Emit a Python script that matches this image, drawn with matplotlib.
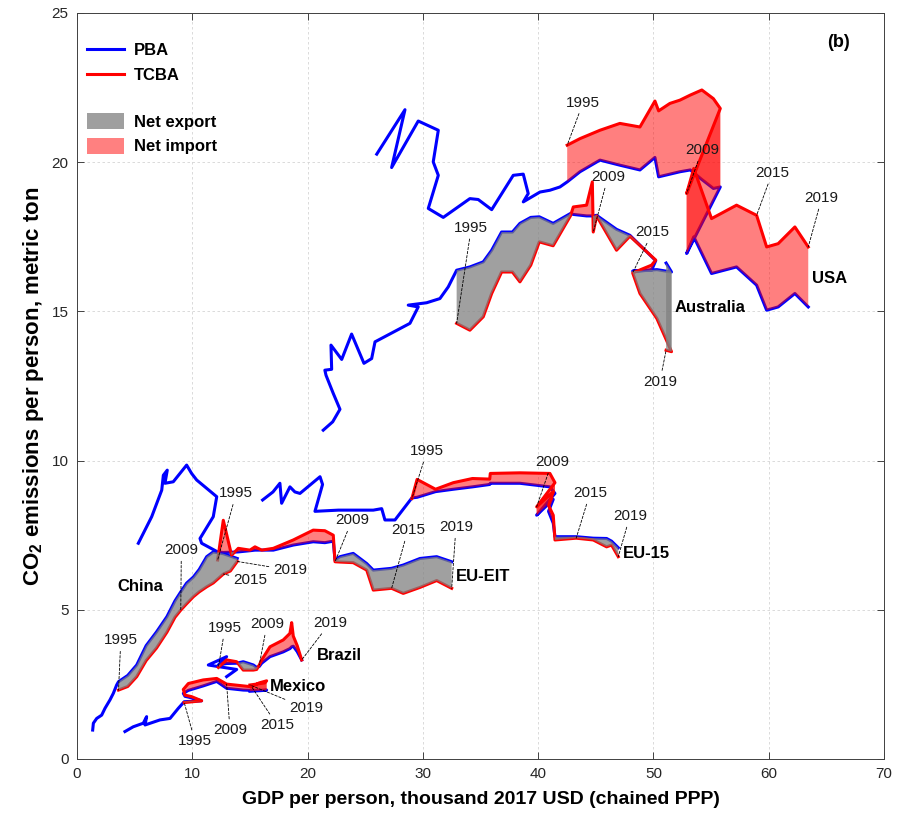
import numpy as np
import matplotlib.pyplot as plt
from matplotlib.lines import Line2D
from matplotlib.patches import Patch

plt.rcParams['font.family'] = ['Liberation Sans', 'DejaVu Sans']
plt.rcParams['mathtext.fontset'] = 'custom'
plt.rcParams['mathtext.rm'] = 'Liberation Sans'
plt.rcParams['mathtext.bf'] = 'Liberation Sans:bold'

# USA: PBA history before 1995, then PBA/TCBA 1995-2019
usa_pre_gdp = [26.0, 28.45, 27.29, 29.6, 31.34, 30.9, 31.34, 30.47, 31.77, 34.08, 34.8,
               35.97, 37.84, 38.71, 39.14, 38.71, 40.16, 41.02, 41.89]
usa_pre_pba = [20.27, 21.76, 19.82, 21.38, 21.07, 20.01, 19.56, 18.45, 18.15, 18.78, 18.75,
               18.41, 19.56, 19.6, 18.95, 18.67, 19.0, 19.06, 19.17]
usa_year = [1995, 1996, 1997, 1998, 1999, 2000, 2001, 2002, 2003, 2004, 2005, 2006, 2007,
            2009, 2010, 2011, 2012, 2015, 2016, 2017, 2018, 2019]
usa_gdp = [42.52, 43.63, 45.36, 47.09, 48.83, 50.13, 50.45, 51.43, 52.3, 53.2, 54.2, 55.2, 55.8,
           52.88, 53.5, 55.04, 57.21, 58.95, 59.82, 60.82, 62.27, 63.43]
usa_pba = [19.34, 19.68, 20.07, 19.9, 19.74, 20.16, 19.51, 19.6, 19.68, 19.74, 19.42, 19.12, 19.17,
           16.94, 17.5, 16.27, 16.49, 15.88, 15.04, 15.15, 15.6, 15.15]
usa_tcba = [20.57, 20.79, 21.07, 21.3, 21.18, 22.05, 21.72, 21.97, 22.08, 22.25, 22.42, 22.13, 21.8,
            18.95, 19.79, 18.11, 18.56, 18.22, 17.16, 17.27, 17.83, 17.16]

# Australia
aus_pre_gdp = [21.36, 22.18, 22.81, 22.23, 21.6, 21.5, 22.09, 22.03, 22.96, 23.82, 24.89, 25.56,
               25.85, 28.88, 29.6, 28.73, 30.33, 31.48, 32.2]
aus_pre_pba = [11.02, 11.3, 11.72, 12.25, 12.86, 13.03, 13.06, 13.87, 13.39, 14.24, 13.26, 13.42,
               13.98, 14.6, 15.15, 15.21, 15.29, 15.43, 15.82]
aus_year = list(range(1995, 2020))
aus_gdp = [32.93, 34.08, 35.24, 35.97, 36.83, 37.77, 38.42, 39.36, 40.1, 41.3, 42.8, 43.05, 44.2,
           44.7, 44.78, 45.07, 46.8, 47.96, 50.2, 49.84, 48.2, 48.83, 50.3, 51.57, 51.1]
aus_pba = [16.38, 16.49, 16.66, 17.05, 17.66, 17.66, 17.95, 18.15, 18.17, 17.95, 18.28, 18.25, 18.2,
           18.2, 18.2, 18.22, 17.75, 17.55, 16.7, 16.38, 16.35, 16.36, 16.4, 16.32, 16.62]
aus_tcba = [14.6, 14.37, 14.82, 15.6, 16.32, 16.32, 15.99, 16.55, 17.33, 17.2, 18.2, 18.5, 18.56,
            19.34, 17.66, 18.2, 17.05, 17.52, 16.72, 16.55, 16.29, 15.6, 14.76, 13.65, 13.7]

# EU-15
eu15_pre_gdp = [16.1, 17.0, 17.6, 17.75, 18.47, 18.9, 19.34, 21.08, 21.3, 20.64, 22.67, 25.7,
                26.43, 26.71, 27.58]
eu15_pre_pba = [8.68, 8.95, 9.24, 8.57, 9.12, 8.95, 8.9, 9.46, 9.2, 8.3, 8.34, 8.34, 8.39, 8.01, 8.01]
eu15_year = [1995, 1996, 1997, 1998, 1999, 2000, 2001, 2003, 2006, 2007, 2009, 2010, 2011, 2012,
             2013, 2015, 2016, 2017, 2018, 2019]
eu15_gdp = [29.05, 29.5, 31.1, 32.64, 34.3, 35.8, 35.85, 38.42, 41.02, 41.46, 39.87, 41.31, 40.9,
            41.31, 41.46, 43.3, 44.78, 45.94, 46.37, 46.95]
eu15_pba = [8.75, 8.77, 8.96, 9.04, 9.12, 9.2, 9.24, 9.24, 9.12, 8.9, 8.17, 8.7, 8.3, 7.9, 7.45,
            7.45, 7.4, 7.39, 7.3, 7.08]
eu15_tcba = [8.73, 9.37, 9.04, 9.26, 9.4, 9.38, 9.57, 9.59, 9.57, 9.26, 8.45, 8.96, 8.5, 8.17, 7.34,
             7.4, 7.34, 7.11, 7.17, 6.78]

# EU-EIT
eit_pre_gdp = [5.32, 6.48, 7.35, 7.49, 7.83, 7.63, 8.35, 9.51, 9.94, 10.38, 12.12, 11.82, 10.67, 10.81]
eit_pre_pba = [7.23, 8.12, 9.01, 9.51, 9.68, 9.24, 9.29, 9.85, 9.57, 9.35, 8.79, 8.12, 7.39, 7.23]
eit_year = [1995, 1996, 1997, 1998, 1999, 2000, 2001, 2002, 2004, 2006, 2007, 2008, 2009, 2010,
            2011, 2012, 2013, 2015, 2016, 2017, 2018, 2019]
eit_gdp = [12.2, 12.69, 13.41, 13.99, 15.0, 15.44, 16.02, 17.03, 18.76, 20.49, 21.5, 22.23, 22.38,
           22.81, 23.96, 25.13, 25.7, 27.29, 28.3, 29.75, 31.2, 32.5]
eit_pba = [6.94, 6.92, 6.93, 6.94, 6.98, 7.0, 7.0, 7.0, 7.17, 7.28, 7.25, 7.3, 6.67, 6.78, 6.89,
           6.55, 6.33, 6.39, 6.5, 6.72, 6.78, 6.61]
eit_tcba = [6.67, 8.0, 6.83, 7.06, 7.0, 7.11, 7.0, 7.06, 7.34, 7.67, 7.65, 7.5, 6.61, 6.6, 6.58,
            6.33, 5.66, 5.72, 5.55, 5.75, 5.98, 5.72]

# China
chn_pre_gdp = [1.36, 1.42, 1.71, 2.14, 2.43, 2.86, 3.15, 3.44]
chn_pre_pba = [0.97, 1.2, 1.36, 1.47, 1.7, 1.98, 2.2, 2.48]
chn_year = [1995, 1997, 1999, 2001, 2003, 2005, 2007, 2009, 2010, 2011, 2012, 2013, 2014, 2015,
            2017, 2019]
chn_gdp = [3.6, 4.4, 5.18, 6.0, 6.9, 7.8, 8.5, 9.0, 9.5, 10.1, 10.6, 11.25, 11.82, 12.7, 13.3, 13.9]
chn_pba = [2.59, 2.8, 3.15, 3.8, 4.26, 4.77, 5.3, 5.6, 5.89, 6.1, 6.35, 6.78, 6.94, 6.88, 6.8, 6.72]
chn_tcba = [2.31, 2.43, 2.76, 3.3, 3.72, 4.25, 4.75, 4.99, 5.2, 5.44, 5.6, 5.77, 5.9, 6.2, 6.3, 6.62]

# Brazil
bra_pre_gdp = [12.98, 13.85, 11.39, 12.98]
bra_pre_pba = [2.76, 3.0, 3.15, 3.43]
bra_year = [1995, 1997, 2000, 2003, 2006, 2008, 2009, 2010, 2011, 2012, 2013, 2014, 2015, 2016, 2019]
bra_gdp = [12.26, 12.98, 13.85, 14.42, 15.3, 15.58, 15.81, 16.02, 16.74, 17.89, 18.47, 18.62, 18.76,
           19.1, 19.49]
bra_pba = [3.15, 3.2, 3.21, 3.26, 3.15, 3.07, 3.1, 3.21, 3.43, 3.59, 3.7, 3.76, 3.78, 3.6, 3.32]
bra_tcba = [3.07, 3.32, 3.26, 2.98, 2.98, 3.0, 3.15, 3.32, 3.76, 3.99, 4.21, 4.57, 4.12, 3.8, 3.32]

# Mexico
mex_pre_gdp = [4.16, 4.88, 5.75, 6.04, 5.9, 7.2, 8.07, 8.79]
mex_pre_pba = [0.92, 1.08, 1.2, 1.42, 1.14, 1.31, 1.36, 1.7]
mex_year = [1995, 1996, 1997, 1998, 1999, 2000, 2001, 2004, 2009, 2012, 2015, 2016, 2017, 2018, 2019]
mex_gdp = [9.3, 10.81, 9.94, 9.37, 9.22, 9.66, 10.95, 12.12, 12.98, 14.42, 15.15, 15.8, 16.45, 16.3, 15.0]
mex_pba = [1.92, 1.95, 2.05, 2.1, 2.2, 2.3, 2.45, 2.6, 2.37, 2.31, 2.3, 2.3, 2.31, 2.3, 2.27]
mex_tcba = [1.89, 1.95, 2.09, 2.14, 2.33, 2.53, 2.65, 2.7, 2.51, 2.45, 2.42, 2.55, 2.62, 2.55, 2.48]

# year tags: (year, text x, text y)
usa_tags = [(1995, 43.9, 22.0), (2009, 54.2, 20.4), (2015, 60.3, 19.64), (2019, 64.6, 18.8)]
aus_tags = [(1995, 34.2, 17.8), (2009, 46.05, 19.5), (2015, 49.9, 17.65), (2019, 50.56, 12.65)]
eu15_tags = [(1995, 30.36, 10.32), (2009, 41.2, 9.95), (2015, 44.5, 8.91), (2019, 47.96, 8.14)]
eit_tags = [(1995, 13.8, 8.9), (2009, 23.85, 8.0), (2015, 28.7, 7.67), (2019, 32.87, 7.77)]
chn_tags = [(1995, 3.8, 3.98), (2009, 9.05, 7.0), (2015, 15.0, 6.0), (2019, 18.47, 6.33)]
bra_tags = [(1995, 12.84, 4.39), (2009, 16.48, 4.52), (2019, 21.94, 4.56)]
mex_tags = [(1995, 10.23, 0.6), (2009, 13.27, 0.97), (2015, 17.35, 1.14), (2019, 19.86, 1.71)]

# country names: (name, x, y)
names = [('USA', 63.75, 16.11), ('Australia', 51.86, 15.14), ('EU-15', 47.35, 6.87),
         ('EU-EIT', 32.87, 6.13), ('China', 3.47, 5.77), ('Brazil', 20.82, 3.48),
         ('Mexico', 16.74, 2.42)]

countries = [
    (usa_pre_gdp, usa_pre_pba, usa_year, usa_gdp, usa_pba, usa_tcba, usa_tags),
    (aus_pre_gdp, aus_pre_pba, aus_year, aus_gdp, aus_pba, aus_tcba, aus_tags),
    (eu15_pre_gdp, eu15_pre_pba, eu15_year, eu15_gdp, eu15_pba, eu15_tcba, eu15_tags),
    (eit_pre_gdp, eit_pre_pba, eit_year, eit_gdp, eit_pba, eit_tcba, eit_tags),
    (chn_pre_gdp, chn_pre_pba, chn_year, chn_gdp, chn_pba, chn_tcba, chn_tags),
    (bra_pre_gdp, bra_pre_pba, bra_year, bra_gdp, bra_pba, bra_tcba, bra_tags),
    (mex_pre_gdp, mex_pre_pba, mex_year, mex_gdp, mex_pba, mex_tcba, mex_tags),
]

import_style = dict(facecolor='red', alpha=0.5)
export_style = dict(facecolor=(0.5, 0.5, 0.5), alpha=0.75)


def net_fill(ax, gdp, pba, tcba):
    # split the band where TCBA crosses PBA
    segs = []
    for i in range(len(gdp) - 1):
        a = (gdp[i], pba[i], tcba[i])
        b = (gdp[i + 1], pba[i + 1], tcba[i + 1])
        d0, d1 = a[2] - a[1], b[2] - b[1]
        if d0 * d1 < 0:
            s = d0 / (d0 - d1)
            xc = a[0] + s * (b[0] - a[0])
            yc = a[1] + s * (b[1] - a[1])
            c = (xc, yc, yc)
            segs.append((a, c, np.sign(d0)))
            segs.append((c, b, np.sign(d1)))
        else:
            segs.append((a, b, np.sign(d0 + d1)))
    # merge steps with the same sign and the same x direction into one patch,
    # so folds of the path overlap (and darken) but straight runs have no seams
    runs = []
    for a, b, sg in segs:
        dx = np.sign(b[0] - a[0])
        if runs and runs[-1][0] == sg and (dx == 0 or runs[-1][1] in (0, dx)):
            runs[-1][2].append(b)
            if dx != 0:
                runs[-1][1] = dx
        else:
            runs.append([sg, dx, [a, b]])
    for sg, dx, pts in runs:
        xs = [q[0] for q in pts] + [q[0] for q in pts[::-1]]
        ys = [q[1] for q in pts] + [q[2] for q in pts[::-1]]
        style = import_style if sg > 0 else export_style
        ax.fill(xs, ys, lw=0, zorder=3, **style)


fig = plt.figure(figsize=(9, 8.14), dpi=100)
ax = fig.add_axes([77 / 900, 55 / 814, 807 / 900, 746 / 814])

for pre_gdp, pre_pba, year, gdp, pba, tcba, tags in countries:
    ax.plot(pre_gdp + gdp, pre_pba + pba, color='blue', lw=2.2, zorder=2)
    ax.plot(gdp, tcba, color='red', lw=2.2, zorder=2.5)
    net_fill(ax, gdp, pba, tcba)
    for yr, tx, ty in tags:
        k = year.index(yr)
        ax.annotate(str(yr), xy=(gdp[k], tcba[k]), xytext=(tx, ty),
                    ha='center', va='center', fontsize=11, color='#1a1a1a', zorder=5,
                    arrowprops=dict(arrowstyle='-', color='k', lw=0.6,
                                    linestyle=(0, (3, 2)), shrinkA=1, shrinkB=0))

for name, x, y in names:
    ax.text(x, y, name, ha='left', va='center', fontsize=12, fontweight='bold', zorder=5)

ax.set_xlim(0, 70)
ax.set_ylim(0, 25)
ax.set_xticks(np.arange(0, 71, 10))
ax.set_yticks(np.arange(0, 26, 5))
ax.grid(True, ls=(0, (3, 3)), color='#d4d4d4', lw=0.6)
ax.set_axisbelow(True)
ax.tick_params(direction='in', top=True, right=True, length=5, width=0.6,
               colors='#262626', labelsize=11, pad=6)
for s in ax.spines.values():
    s.set_color('#404040')
    s.set_linewidth(0.7)

ax.set_xlabel('GDP per person, thousand 2017 USD (chained PPP)',
              fontsize=14, fontweight='bold', labelpad=7)
ax.set_ylabel(r'CO$_\mathbf{2}$ emissions per person, metric ton',
              fontsize=16, fontweight='bold', labelpad=4)

ax.text(0.943, 0.96, '(b)', transform=ax.transAxes, ha='center', va='center',
        fontsize=13, fontweight='bold')

line_handles = [Line2D([], [], color='blue', lw=2.2), Line2D([], [], color='red', lw=2.2)]
leg1 = ax.legend(line_handles, ['PBA', 'TCBA'], loc='upper left',
                 bbox_to_anchor=(0.0, 1 - 20 / 746), borderaxespad=0, frameon=False,
                 prop=dict(weight='bold', size=12), handlelength=2.2, handletextpad=0.6,
                 borderpad=0.6, labelspacing=0.57)
ax.add_artist(leg1)
fill_handles = [Patch(facecolor=(0.625, 0.625, 0.625)), Patch(facecolor=(1, 0.5, 0.5))]
ax.legend(fill_handles, ['Net export', 'Net import'], loc='upper left',
          bbox_to_anchor=(0.0, 1 - 90 / 746), borderaxespad=0, frameon=False,
          prop=dict(weight='bold', size=12), handlelength=2.2, handleheight=1.1,
          handletextpad=0.6, borderpad=0.6, labelspacing=0.47)

fig.savefig('out.png', dpi=100)
